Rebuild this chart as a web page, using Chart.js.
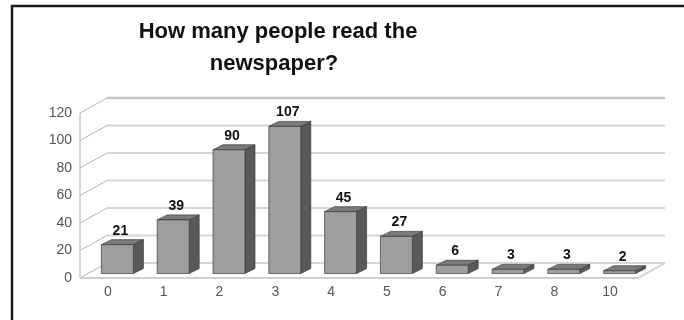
<!DOCTYPE html>
<html>
<head>
<meta charset="utf-8">
<title>Newspaper readers</title>
<script src="https://cdn.jsdelivr.net/npm/chart.js@4.4.1/dist/chart.umd.min.js"></script>
<style>
  html, body { margin: 0; padding: 0; background: #fff; overflow: hidden; }
  #chart { display: block; }
</style>
</head>
<body>
<canvas id="chart" width="684" height="320"></canvas>
<script>
// how many newspapers a person reads -> number of people
const categories = ["0", "1", "2", "3", "4", "5", "6", "7", "8", "10"];
const readers = [21, 39, 90, 107, 45, 27, 6, 3, 3, 2];
const titleLines = ["How many people read the", "newspaper?"];
const yMax = 120;
const yStep = 20;

const FONT = "'Liberation Sans', Arial, sans-serif";
// fake 3d: depth of the walls / floor, and where each bar sits inside it
const WALL = { dx: 27, dy: -15 };
const BAR_SHIFT = { dx: 9.5, dy: -4.5 };
const BAR_DEPTH = { dx: 10, dy: -5 };

function line(ctx, pts, color, width) {
  ctx.beginPath();
  ctx.moveTo(pts[0][0], pts[0][1]);
  for (let i = 1; i < pts.length; i++) ctx.lineTo(pts[i][0], pts[i][1]);
  ctx.strokeStyle = color;
  ctx.lineWidth = width;
  ctx.stroke();
}

function poly(ctx, pts, fill) {
  ctx.beginPath();
  ctx.moveTo(pts[0][0], pts[0][1]);
  for (let i = 1; i < pts.length; i++) ctx.lineTo(pts[i][0], pts[i][1]);
  ctx.closePath();
  ctx.fillStyle = fill;
  ctx.fill();
  ctx.strokeStyle = "rgba(55,55,55,0.85)";
  ctx.lineWidth = 0.8;
  ctx.stroke();
}

// frame, title, back wall, side wall and floor
const backdrop = {
  id: "backdrop",
  beforeDraw(chart) {
    const ctx = chart.ctx;
    const a = chart.chartArea;
    const y = chart.scales.y;
    ctx.save();
    ctx.fillStyle = "#fff";
    ctx.fillRect(0, 0, chart.width, chart.height);

    ctx.strokeStyle = "#1a1a1a";
    ctx.lineWidth = 2.5;
    ctx.strokeRect(12, 6, 800, 500);

    ctx.fillStyle = "#111";
    ctx.font = "bold 22px " + FONT;
    ctx.textAlign = "center";
    ctx.textBaseline = "alphabetic";
    ctx.fillText(titleLines[0], 278, 38);
    ctx.fillText(titleLines[1], 274, 70);

    // grid lines run along the side wall and the back wall
    for (let v = 0; v <= yMax; v += yStep) {
      const yf = y.getPixelForValue(v);
      const yb = yf + WALL.dy;
      line(ctx, [[a.left, yf], [a.left + WALL.dx, yb]], "#b4b4b4", 1);
      const top = v === yMax;
      line(ctx, [[a.left + WALL.dx, yb], [a.right + WALL.dx, yb]],
        top ? "#c4c4c4" : "#d6d6d6", top ? 2.5 : 1.8);
    }
    // side wall front edge
    line(ctx, [[a.left, a.top], [a.left, a.bottom]], "#bdbdbd", 1.2);
    // floor
    line(ctx, [[a.left, a.bottom], [a.right, a.bottom],
      [a.right + WALL.dx, a.bottom + WALL.dy]], "#d0d0d0", 2);
    ctx.restore();
  }
};

// 3d bars built from the bar elements, plus value labels
const bars3d = {
  id: "bars3d",
  afterDatasetsDraw(chart) {
    const ctx = chart.ctx;
    const meta = chart.getDatasetMeta(0);
    ctx.save();
    meta.data.forEach((bar, i) => {
      const p = bar.getProps(["x", "y", "base", "width"], true);
      const l = p.x - p.width / 2 + BAR_SHIFT.dx;
      const r = p.x + p.width / 2 + BAR_SHIFT.dx;
      const t = p.y + BAR_SHIFT.dy;
      const b = p.base + BAR_SHIFT.dy;
      const dx = BAR_DEPTH.dx, dy = BAR_DEPTH.dy;
      poly(ctx, [[r, t], [r + dx, t + dy], [r + dx, b + dy], [r, b]], "#595959");
      poly(ctx, [[l, t], [l + dx, t + dy], [r + dx, t + dy], [r, t]], "#7a7a7a");
      poly(ctx, [[l, t], [r, t], [r, b], [l, b]], "#9e9e9e");

      ctx.fillStyle = "#111";
      ctx.font = "bold 14px " + FONT;
      ctx.textAlign = "center";
      ctx.textBaseline = "alphabetic";
      ctx.fillText(String(readers[i]), (l + r) / 2 + 3, t - 10);
    });
    ctx.restore();
  }
};

new Chart(document.getElementById("chart"), {
  type: "bar",
  data: {
    labels: categories,
    datasets: [{
      data: readers,
      backgroundColor: "rgba(0,0,0,0)",
      borderWidth: 0,
      barPercentage: 0.573,
      categoryPercentage: 1
    }]
  },
  options: {
    responsive: false,
    animation: false,
    devicePixelRatio: 1,
    layout: { padding: { left: 0, right: 46, top: 113, bottom: 0 } },
    plugins: {
      legend: { display: false },
      tooltip: { enabled: false },
      title: { display: false }
    },
    scales: {
      x: {
        grid: { display: false, drawTicks: false },
        border: { display: false },
        ticks: {
          color: "#555",
          font: { family: FONT, size: 14 },
          padding: 6,
          maxRotation: 0,
          autoSkip: false
        },
        afterFit(s) { s.height = 42; }
      },
      y: {
        min: 0,
        max: yMax,
        grid: { display: false, drawTicks: false },
        border: { display: false },
        ticks: {
          stepSize: yStep,
          color: "#555",
          font: { family: FONT, size: 14 },
          padding: 8
        },
        afterFit(s) { s.width = 80; }
      }
    }
  },
  plugins: [backdrop, bars3d]
});
</script>
</body>
</html>
